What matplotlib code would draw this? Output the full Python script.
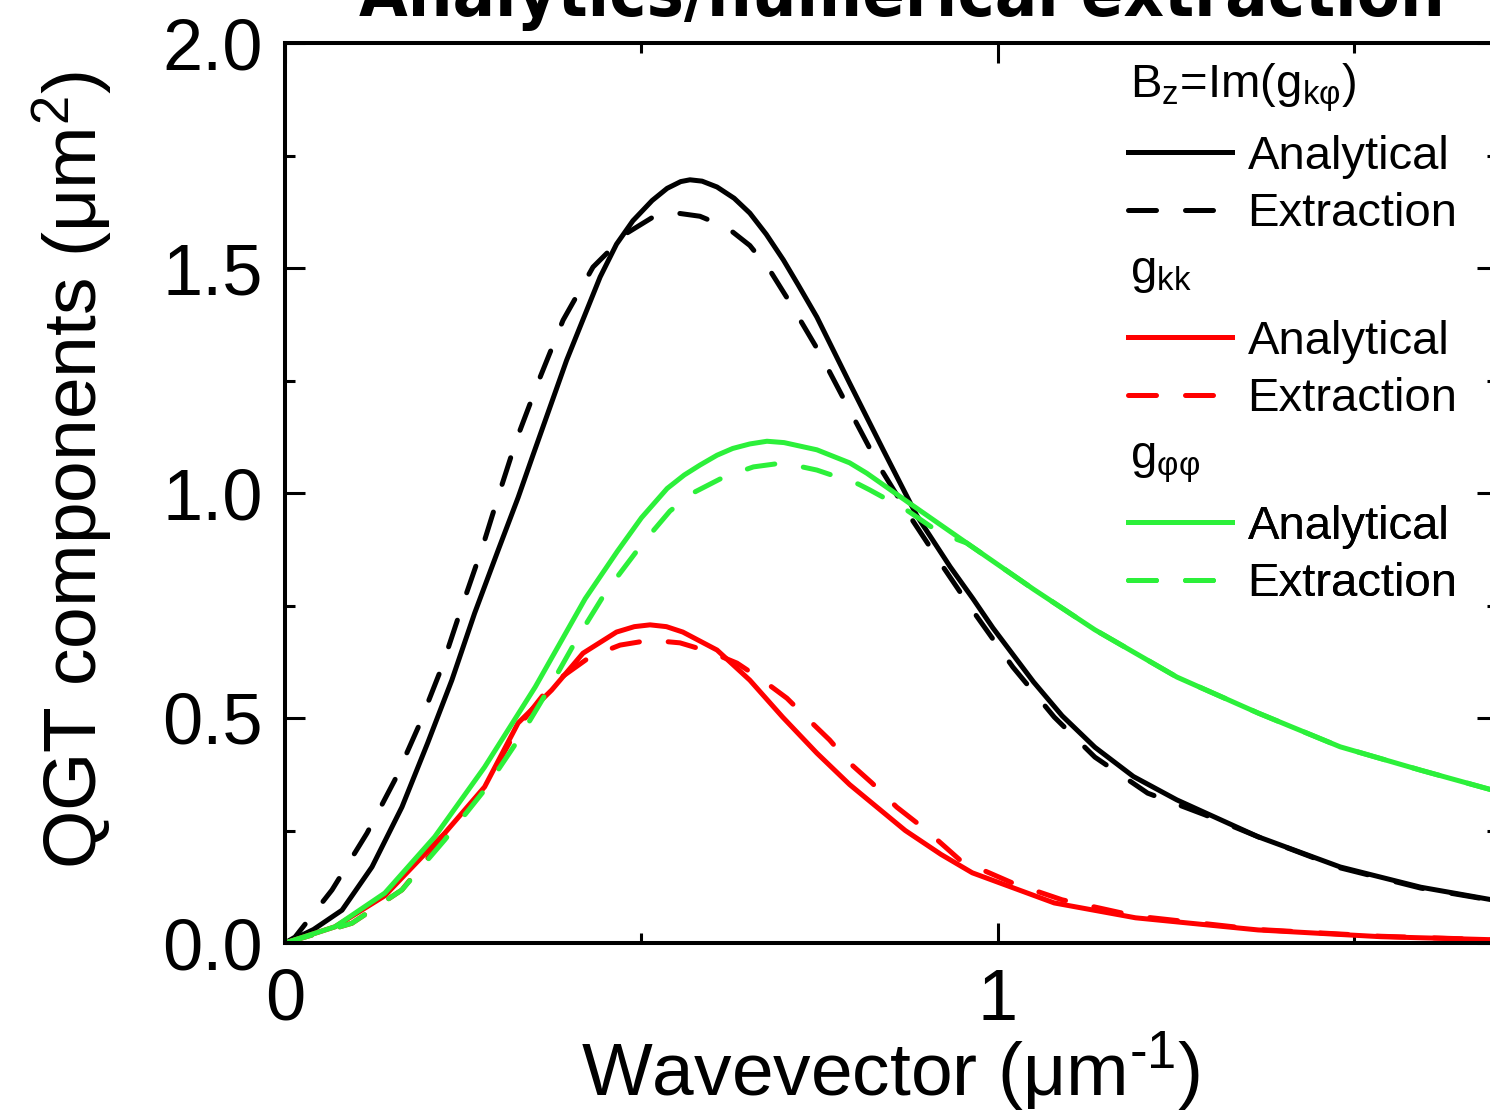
import numpy as np
import matplotlib
matplotlib.use('Agg')
import matplotlib.pyplot as plt
from matplotlib.ticker import FormatStrFormatter

# Values
# wavevector k in um^-1, QGT components in um^2

# Bz = Im(g_k phi)
bz_ana_k = [0.0, 0.01, 0.04, 0.08, 0.122, 0.164, 0.20, 0.234, 0.266, 0.299, 0.327, 0.348,
            0.395, 0.442, 0.465, 0.488, 0.515, 0.536, 0.555, 0.568, 0.585, 0.606, 0.63,
            0.652, 0.675, 0.699, 0.72, 0.746, 0.792, 0.839, 0.886, 0.933, 0.965, 0.993,
            1.05, 1.09, 1.136, 1.19, 1.251, 1.365, 1.48, 1.593, 1.70]
bz_ana = [0.0, 0.007, 0.03, 0.073, 0.169, 0.302, 0.444, 0.584, 0.733, 0.873, 0.99, 1.085,
          1.295, 1.48, 1.553, 1.605, 1.65, 1.677, 1.692, 1.696, 1.693, 1.68, 1.655,
          1.622, 1.575, 1.518, 1.462, 1.391, 1.244, 1.096, 0.95, 0.836, 0.765, 0.70,
          0.58, 0.505, 0.435, 0.37, 0.318, 0.236, 0.169, 0.124, 0.094]

bz_ext_k = [0.0, 0.014, 0.066, 0.115, 0.154, 0.187, 0.22, 0.248, 0.277, 0.302, 0.325, 0.358,
            0.39, 0.432, 0.48, 0.516, 0.55, 0.582, 0.62, 0.652, 0.68, 0.706, 0.75, 0.792,
            0.834, 0.877, 0.923, 0.964, 1.021, 1.079, 1.136, 1.21, 1.29, 1.365, 1.48,
            1.593, 1.70]
bz_ext = [0.0, 0.013, 0.118, 0.244, 0.362, 0.48, 0.613, 0.747, 0.88, 1.007, 1.12, 1.258,
          1.384, 1.502, 1.578, 1.613, 1.622, 1.615, 1.59, 1.55, 1.495, 1.429, 1.311, 1.184,
          1.058, 0.947, 0.836, 0.74, 0.613, 0.502, 0.413, 0.333, 0.285, 0.236, 0.167,
          0.122, 0.093]

# g_kk
gkk_ana_k = [0.0, 0.07, 0.14, 0.224, 0.28, 0.327, 0.374, 0.418, 0.465, 0.49, 0.512, 0.535,
             0.558, 0.606, 0.652, 0.698, 0.746, 0.792, 0.87, 0.92, 0.964, 1.079, 1.193,
             1.365, 1.537, 1.70]
gkk_ana = [0.0, 0.036, 0.105, 0.244, 0.347, 0.489, 0.562, 0.644, 0.691, 0.703, 0.707, 0.703,
           0.691, 0.651, 0.584, 0.502, 0.422, 0.352, 0.25, 0.197, 0.156, 0.089, 0.056,
           0.029, 0.014, 0.007]

gkk_ext_k = [0.0, 0.094, 0.164, 0.224, 0.28, 0.327, 0.374, 0.428, 0.47, 0.512, 0.554, 0.596,
             0.634, 0.67, 0.704, 0.732, 0.764, 0.792, 0.823, 0.858, 0.9, 0.947, 1.021,
             1.09, 1.193, 1.365, 1.537, 1.70]
gkk_ext = [0.0, 0.044, 0.118, 0.235, 0.345, 0.48, 0.575, 0.636, 0.662, 0.673, 0.667, 0.647,
           0.622, 0.584, 0.544, 0.5, 0.451, 0.4, 0.356, 0.302, 0.25, 0.184, 0.133,
           0.096, 0.06, 0.03, 0.015, 0.007]

# g_phi phi
gpp_ana_k = [0.0, 0.07, 0.14, 0.21, 0.28, 0.351, 0.421, 0.466, 0.50, 0.536, 0.56, 0.582,
             0.606, 0.628, 0.652, 0.676, 0.70, 0.746, 0.792, 0.816, 0.878, 0.956, 1.05,
             1.136, 1.251, 1.365, 1.48, 1.593, 1.70]
gpp_ana = [0.0, 0.036, 0.111, 0.236, 0.391, 0.569, 0.765, 0.87, 0.945, 1.01, 1.04, 1.062,
           1.084, 1.099, 1.109, 1.115, 1.112, 1.096, 1.067, 1.044, 0.975, 0.889, 0.786,
           0.696, 0.591, 0.511, 0.436, 0.384, 0.337]

gpp_ext_k = [0.0, 0.094, 0.164, 0.224, 0.28, 0.327, 0.369, 0.411, 0.45, 0.502, 0.54, 0.572,
             0.615, 0.657, 0.699, 0.746, 0.804, 0.82, 0.872, 0.92, 0.956, 1.05, 1.136,
             1.251, 1.365, 1.48, 1.593, 1.70]
gpp_ext = [0.0, 0.044, 0.118, 0.229, 0.340, 0.451, 0.562, 0.68, 0.78, 0.889, 0.96, 1.0,
           1.035, 1.058, 1.067, 1.051, 1.02, 1.007, 0.962, 0.91, 0.889, 0.786, 0.696,
           0.591, 0.511, 0.436, 0.384, 0.337]

x_ticks = [0, 1]
x_minor = [0.5, 1.5]
y_ticks = [0.0, 0.5, 1.0, 1.5, 2.0]
y_minor = [0.25, 0.75, 1.25, 1.75]

BLACK = 'black'
RED = '#ff0000'
GREEN = '#2cf03a'
LW = 3.6
DASH = (5.6, 5.8)

plt.rcParams['font.family'] = ['Liberation Sans', 'DejaVu Sans']
plt.rcParams['mathtext.fontset'] = 'custom'
plt.rcParams['mathtext.rm'] = 'Liberation Sans'
plt.rcParams['mathtext.it'] = 'Liberation Sans'
plt.rcParams['mathtext.default'] = 'regular'

W, H = 1490, 1116
fig = plt.figure(figsize=(W/100, H/100), dpi=100)
ax = fig.add_axes([285/W, 173/H, 1212/W, 900/H])

l1, = ax.plot(bz_ana_k, bz_ana, color=BLACK, lw=LW)
l2, = ax.plot(bz_ext_k, bz_ext, color=BLACK, lw=LW, dashes=DASH, dash_capstyle='round')
l3, = ax.plot(gkk_ana_k, gkk_ana, color=RED, lw=LW)
l4, = ax.plot(gkk_ext_k, gkk_ext, color=RED, lw=LW, dashes=DASH, dash_capstyle='round')
l5, = ax.plot(gpp_ana_k, gpp_ana, color=GREEN, lw=LW)
l6, = ax.plot(gpp_ext_k, gpp_ext, color=GREEN, lw=LW, dashes=DASH, dash_capstyle='round')

ax.set_xlim(0, 1.7)
ax.set_ylim(0, 2.0)
ax.set_xticks(x_ticks)
ax.set_xticks(x_minor, minor=True)
ax.set_yticks(y_ticks)
ax.set_yticks(y_minor, minor=True)
ax.yaxis.set_major_formatter(FormatStrFormatter('%.1f'))
ax.tick_params(which='both', direction='in', top=True, right=True, width=2.2,
               labelsize=52)
ax.tick_params(which='major', length=14.4)
ax.tick_params(which='minor', length=7.2)
ax.tick_params(axis='x', pad=18)
ax.tick_params(axis='y', pad=16)
for s in ax.spines.values():
    s.set_linewidth(2.9)

ax.set_xlabel('Wavevector (μm$^{\u2010 1}$)', fontsize=54, labelpad=-4)
ax.set_ylabel('QGT components (μm$^{2}$)', fontsize=54, labelpad=34)
ax.yaxis.label.set_y((943 - 470) / 900)

# three legend groups, header drawn as plain text above each pair
headers = ['B$_{z}$=Im(g$_{kφ}$)', 'g$_{kk}$', 'g$_{φφ}$']
header_base = [97, 283, 468]
legend_top = [135, 320, 505]
pairs = [[l1, l2], [l3, l4], [l5, l6]]
for head, yb, yt, handles in zip(headers, header_base, legend_top, pairs):
    fig.text(1130/W, 1 - yb/H, head, fontsize=34, va='baseline', ha='left')
    leg = ax.legend(handles, ['Analytical', 'Extraction'],
                    loc='upper left', bbox_to_anchor=(1128/W, 1 - yt/H),
                    bbox_transform=fig.transFigure, frameon=False, fontsize=34,
                    borderpad=0, borderaxespad=0, handlelength=2.2,
                    handletextpad=0.33, labelspacing=0.28)
    ax.add_artist(leg)

# title is cut off at the top edge in the original figure
title = fig.text(902/W, 1 - 16/H, 'Analytics/numerical extraction', ha='center',
                 va='baseline', fontsize=66, fontweight='bold',
                 family=['Liberation Sans Narrow', 'DejaVu Sans'], fontstretch='condensed')
fig.canvas.draw()
tw = title.get_window_extent().width
title.set_fontsize(66 * 1085 / tw)

fig.savefig('out.png', dpi=100)
